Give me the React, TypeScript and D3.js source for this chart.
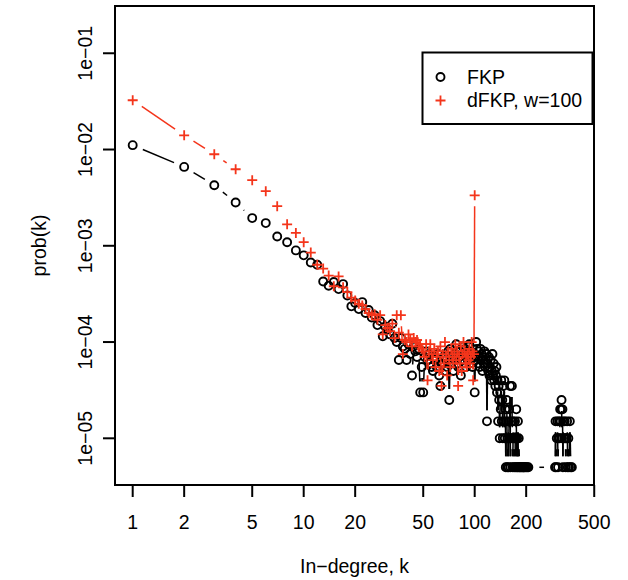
import React, { useEffect, useRef } from 'react';
import * as d3 from 'd3';

// number of nodes in the simulated networks (prob = count / N_NODES)
const N_NODES = 200000;

// FKP: [in-degree k, number of nodes]
const fkp: [number, number][] = [
  [1, 2220], [2, 1320], [3, 852], [4, 564], [5, 388], [6, 344], [7, 250], [8, 218], [9, 179], [10, 159],
  [11, 134], [12, 127], [13, 85], [14, 77], [15, 84], [16, 71], [17, 80], [18, 61], [19, 47], [20, 51],
  [21, 44], [22, 52], [23, 40], [24, 43], [25, 36], [26, 38], [27, 30], [28, 33], [29, 23], [30, 29],
  [31, 27], [32, 24], [33, 31], [34, 22], [35, 20], [36, 13], [37, 22], [38, 18], [39, 17], [40, 13],
  [41, 19], [42, 15], [43, 9], [44, 18], [45, 16], [46, 14], [47, 17], [48, 6], [49, 11], [50, 6],
  [51, 14], [52, 16], [53, 13], [54, 15], [55, 12], [56, 11], [57, 10], [58, 14], [59, 13], [60, 11],
  [61, 15], [62, 9], [63, 7], [64, 12], [65, 12], [66, 14], [67, 10], [68, 13], [69, 11], [70, 16],
  [71, 5], [72, 17], [73, 12], [74, 14], [75, 10], [76, 13], [77, 15], [78, 19], [79, 12], [80, 11],
  [81, 14], [82, 16], [83, 9], [84, 13], [85, 18], [86, 12], [87, 15], [88, 17], [89, 11], [90, 14],
  [91, 13], [92, 18], [93, 19], [94, 12], [95, 16], [96, 14], [97, 11], [98, 15], [99, 13], [100, 6],
  [101, 14], [102, 20], [103, 17], [104, 12], [105, 16], [106, 14], [107, 11], [108, 17], [109, 13], [110, 15],
  [111, 10], [112, 14], [113, 12], [114, 16], [115, 11], [116, 13], [117, 15], [118, 3], [119, 12], [120, 10],
  [121, 14], [122, 9], [123, 11], [124, 13], [125, 8], [126, 10], [127, 15], [128, 9], [129, 12], [130, 8],
  [131, 10], [132, 7], [133, 9], [134, 11], [135, 6], [136, 8], [137, 3], [138, 7], [139, 5], [140, 2],
  [141, 6], [142, 4], [143, 8], [144, 3], [145, 5], [146, 2], [147, 7], [148, 3], [149, 8], [150, 2],
  [151, 4], [152, 1], [153, 3], [154, 5], [155, 1], [156, 2], [157, 3], [158, 1], [159, 4], [160, 2],
  [161, 7], [162, 1], [163, 2], [164, 3], [165, 7], [166, 2], [167, 1], [168, 3], [169, 2], [170, 1],
  [171, 2], [172, 3], [173, 1], [174, 2], [175, 4], [176, 1], [177, 2], [178, 1], [179, 3], [180, 1],
  [181, 2], [183, 1], [184, 1], [186, 1], [188, 1], [190, 1], [192, 1], [193, 1], [195, 1], [197, 1],
  [200, 1], [203, 1], [206, 1],
  [295, 1], [297, 3], [299, 1], [302, 2], [305, 3], [307, 1], [309, 2], [312, 3], [314, 2], [316, 4],
  [318, 3], [320, 4], [322, 5], [324, 2], [326, 4], [328, 1], [330, 3], [334, 2], [336, 3], [339, 2],
  [341, 1], [344, 2], [347, 3], [350, 1], [353, 2], [356, 1], [360, 3], [365, 1], [370, 1],
];

// dFKP, w=100: [in-degree k, number of nodes]
const dfkp: [number, number][] = [
  [1, 6500], [2, 2812], [3, 1786], [4, 1248], [5, 960], [6, 738], [7, 516], [8, 334], [9, 272], [10, 218],
  [11, 170], [12, 127], [13, 116], [14, 98], [15, 76], [16, 96], [17, 74], [18, 66], [19, 58], [20, 54],
  [21, 50], [22, 48], [23, 44], [24, 40], [25, 38], [26, 39], [27, 34], [28, 38], [29, 24], [30, 30],
  [31, 28], [32, 26], [33, 31], [34, 22], [35, 38], [36, 25], [37, 38], [38, 15], [39, 21], [40, 20],
  [41, 24], [42, 21], [43, 18], [44, 22], [45, 20], [46, 21], [47, 18], [48, 19], [49, 17], [50, 16],
  [51, 14], [52, 19], [53, 8], [54, 16], [55, 19], [56, 15], [57, 13], [58, 17], [59, 11], [60, 14],
  [61, 16], [62, 10], [63, 18], [64, 7], [65, 15], [66, 12], [67, 20], [68, 14], [69, 9], [70, 16],
  [71, 13], [72, 11], [73, 17], [74, 14], [75, 12], [76, 15], [77, 19], [78, 13], [79, 16], [80, 7],
  [81, 14], [82, 12], [83, 18], [84, 10], [85, 15], [86, 20], [87, 16], [88, 12], [89, 14], [90, 11],
  [91, 15], [92, 13], [93, 17], [94, 12], [95, 14], [96, 20], [97, 16], [98, 8], [99, 15], [100, 668],
];

const xTicks = [1, 2, 5, 10, 20, 50, 100, 200, 500];
const yTicks = [1e-1, 1e-2, 1e-3, 1e-4, 1e-5];
const yTickLabels = ['1e\u221201', '1e\u221202', '1e\u221203', '1e\u221204', '1e\u221205'];

const RED = '#f4351b';
const FONT = '"Liberation Sans", Arial, Helvetica, sans-serif';
const FONT_SIZE = 19.5;

const App = () => {
  const svgRef = useRef<SVGSVGElement | null>(null);

  useEffect(() => {
    if (!svgRef.current) return;
    const svg = d3.select(svgRef.current);
    svg.selectAll('*').remove();

    const box = { left: 115, right: 594, top: 6, bottom: 485 };

    const x = d3.scaleLog().domain([0.788, 498.5]).range([box.left, box.right]);
    const y = d3.scaleLog().domain([3.273e-6, 0.3097]).range([box.bottom, box.top]);

    svg.append('rect').attr('width', 628).attr('height', 580).attr('fill', '#fff');

    // R type="b": segments between consecutive points, with a gap around each symbol
    const gap = 11;
    const drawSeries = (data: [number, number][], color: string, shape: 'circle' | 'plus') => {
      const pts = data.map(([k, c]) => [x(k), y(c / N_NODES)] as [number, number]);
      const g = svg.append('g');
      for (let i = 1; i < pts.length; i++) {
        const [x1, y1] = pts[i - 1];
        const [x2, y2] = pts[i];
        const dx = x2 - x1, dy = y2 - y1;
        const d = Math.hypot(dx, dy);
        if (d <= 2 * gap) continue;
        const ux = dx / d, uy = dy / d;
        g.append('line')
          .attr('x1', x1 + ux * gap).attr('y1', y1 + uy * gap)
          .attr('x2', x2 - ux * gap).attr('y2', y2 - uy * gap)
          .attr('stroke', color).attr('stroke-width', 1.5);
      }
      if (shape === 'circle') {
        g.selectAll('circle.pt').data(pts).enter().append('circle')
          .attr('class', 'pt')
          .attr('cx', d => d[0]).attr('cy', d => d[1]).attr('r', 4)
          .attr('fill', 'none').attr('stroke', color).attr('stroke-width', 1.9);
      } else {
        g.selectAll('path.pt').data(pts).enter().append('path')
          .attr('class', 'pt')
          .attr('d', d => `M${d[0] - 5},${d[1]}H${d[0] + 5}M${d[0]},${d[1] - 5}V${d[1] + 5}`)
          .attr('fill', 'none').attr('stroke', color).attr('stroke-width', 1.8);
      }
    };

    drawSeries(fkp, '#000', 'circle');
    drawSeries(dfkp, RED, 'plus');

    // frame
    svg.append('rect')
      .attr('x', box.left).attr('y', box.top)
      .attr('width', box.right - box.left).attr('height', box.bottom - box.top)
      .attr('fill', 'none').attr('stroke', '#000').attr('stroke-width', 2);

    // x axis
    const xa = svg.append('g');
    xa.selectAll('line').data(xTicks).enter().append('line')
      .attr('x1', d => x(d)).attr('x2', d => x(d))
      .attr('y1', box.bottom).attr('y2', box.bottom + 12)
      .attr('stroke', '#000').attr('stroke-width', 2);
    xa.selectAll('text').data(xTicks).enter().append('text')
      .attr('x', d => x(d)).attr('y', 528.5)
      .attr('text-anchor', 'middle')
      .attr('font-family', FONT).attr('font-size', FONT_SIZE)
      .text(d => String(d));

    // y axis
    const ya = svg.append('g');
    ya.selectAll('line').data(yTicks).enter().append('line')
      .attr('x1', box.left - 12).attr('x2', box.left)
      .attr('y1', d => y(d)).attr('y2', d => y(d))
      .attr('stroke', '#000').attr('stroke-width', 2);
    ya.selectAll('text').data(yTicks).enter().append('text')
      .attr('transform', d => `translate(92,${y(d)}) rotate(-90)`)
      .attr('text-anchor', 'middle')
      .attr('font-family', FONT).attr('font-size', FONT_SIZE)
      .text((d, i) => yTickLabels[i]);

    // axis titles
    svg.append('text')
      .attr('x', (box.left + box.right) / 2).attr('y', 573)
      .attr('text-anchor', 'middle')
      .attr('font-family', FONT).attr('font-size', FONT_SIZE)
      .text('In\u2212degree, k');
    svg.append('text')
      .attr('transform', `translate(46,${(box.top + box.bottom) / 2}) rotate(-90)`)
      .attr('text-anchor', 'middle')
      .attr('font-family', FONT).attr('font-size', FONT_SIZE)
      .text('prob(k)');

    // legend
    const lg = svg.append('g');
    lg.append('rect')
      .attr('x', 422.5).attr('y', 52.5).attr('width', 170).attr('height', 71.5)
      .attr('fill', '#fff').attr('stroke', '#000').attr('stroke-width', 2);
    lg.append('circle')
      .attr('cx', 440.5).attr('cy', 77).attr('r', 4)
      .attr('fill', 'none').attr('stroke', '#000').attr('stroke-width', 1.9);
    lg.append('path')
      .attr('d', 'M435.5,100.5H445.5M440.5,95.5V105.5')
      .attr('stroke', RED).attr('stroke-width', 1.8);
    lg.append('text').attr('x', 467).attr('y', 84)
      .attr('font-family', FONT).attr('font-size', FONT_SIZE).text('FKP');
    lg.append('text').attr('x', 467).attr('y', 106.5)
      .attr('font-family', FONT).attr('font-size', FONT_SIZE).text('dFKP, w=100');
  }, []);

  return (
    <svg ref={svgRef} width={628} height={580}
      style={{ position: 'absolute', left: 0, top: 0, background: '#fff' }} />
  );
};

export default App;
